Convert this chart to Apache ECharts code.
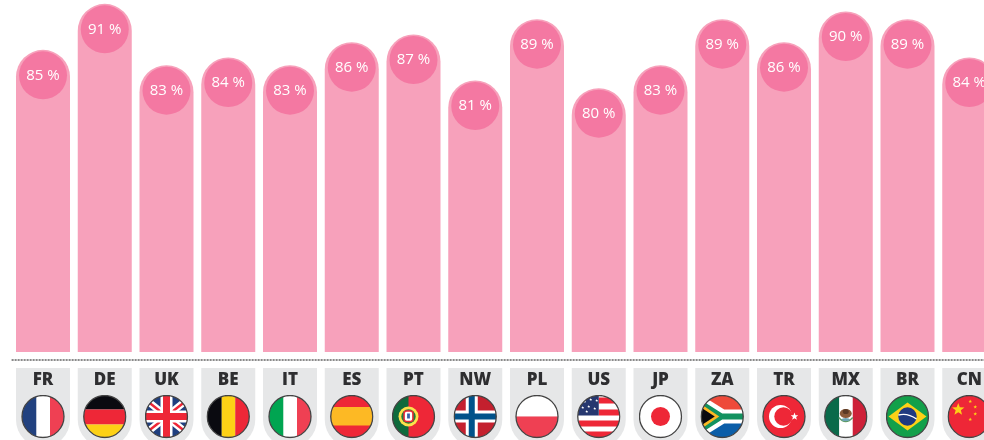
<!DOCTYPE html>
<html>
<head>
<meta charset="utf-8">
<style>html,body{margin:0;padding:0;background:#fff;overflow:hidden}#c{width:984px;height:440px}</style>
<script src="https://cdn.jsdelivr.net/npm/echarts@6/dist/echarts.min.js"></script>
</head>
<body>
<div id="c"></div>
<script>
const categories = ['FR','DE','UK','BE','IT','ES','PT','NW','PL','US','JP','ZA','TR','MX','BR','CN'];
const shares = [85,91,83,84,83,86,87,81,89,80,83,89,86,90,89,84];

const RED='#ee2737', NAVY='#1f3f7f';
const stripesV=(a,b,c)=>`<rect x="0" y="0" width="15.5" height="44" fill="${a}"/><rect x="15.5" y="0" width="13.5" height="44" fill="${b}"/><rect x="29" y="0" width="15" height="44" fill="${c}"/>`;
const star=(x,y,r,f)=>{let p=[];for(let i=0;i<10;i++){const a=-Math.PI/2+i*Math.PI/5,q=i%2?r*0.42:r;p.push((x+q*Math.cos(a)).toFixed(2)+','+(y+q*Math.sin(a)).toFixed(2));}return `<polygon points="${p.join(' ')}" fill="${f}"/>`;};
const flagArt = {
 FR: stripesV('#21417f','#fff','#ef4053'),
 DE: `<rect width="44" height="15" fill="#0a0a10"/><rect y="15" width="44" height="15" fill="${RED}"/><rect y="30" width="44" height="14" fill="#fdd116"/>`,
 UK: `<rect width="44" height="44" fill="${NAVY}"/><path d="M0 4L44 40M44 4L0 40" stroke="#fff" stroke-width="7"/><path d="M2 6L16 17M42 6L28 17M2 38L16 27M42 38L28 27" stroke="${RED}" stroke-width="2.4"/><rect x="16" width="12" height="44" fill="#fff"/><rect y="16" width="44" height="12" fill="#fff"/><rect x="18.5" width="7" height="44" fill="${RED}"/><rect y="18.5" width="44" height="7" fill="${RED}"/>`,
 BE: stripesV('#0a0a10','#fdd116',RED),
 IT: stripesV('#00a551','#fff','#ef4053'),
 ES: `<rect width="44" height="44" fill="${RED}"/><rect y="12.5" width="44" height="18.5" fill="#fdb924"/>`,
 PT: `<rect width="44" height="44" fill="${RED}"/><rect width="17" height="44" fill="#0e6a3c"/><circle cx="17" cy="22" r="10" fill="#fde14a"/><circle cx="17" cy="22" r="7.2" fill="#1f7a3c"/><rect x="12.6" y="16.5" width="8.8" height="10.5" rx="2.5" fill="#fff" stroke="${RED}" stroke-width="1.5"/><rect x="15.6" y="19" width="2.8" height="5" fill="#3a5fa8"/>`,
 NW: `<rect width="44" height="44" fill="#c4202e"/><rect x="12.5" width="12" height="44" fill="#fff"/><rect y="16" width="44" height="12" fill="#fff"/><rect x="15.5" width="6" height="44" fill="#00528a"/><rect y="19" width="44" height="6" fill="#00528a"/>`,
 PL: `<rect width="44" height="22" fill="#fff"/><rect y="22" width="44" height="22" fill="#ef4053"/>`,
 US: `<rect width="44" height="44" fill="#fff"/><rect x="22" y="3" width="22" height="6" fill="${RED}"/><rect x="22" y="15" width="22" height="6" fill="${RED}"/><rect y="26" width="44" height="6" fill="${RED}"/><rect y="37" width="44" height="6" fill="${RED}"/><rect width="22" height="21" fill="#26376f"/>`+[[8,7],[14,5],[20,6],[6,13],[12,12],[18,14],[10,17]].map(([x,y])=>star(x,y,1.6,'#fff')).join(''),
 JP: `<rect width="44" height="44" fill="#fff"/><circle cx="22" cy="22" r="9.5" fill="${RED}"/>`,
 ZA: `<rect width="44" height="44" fill="#fff"/><path d="M0 0H44V15H24Z" fill="#ee4a3a"/><path d="M0 44H44V29H24Z" fill="#0b5ea8"/><path d="M0 2L21 17H44V27H21L0 42Z" fill="#fff"/><path d="M0 5L22 19H44V25H22L0 39Z" fill="#12925f"/><path d="M0 9L19 22L0 35Z" fill="#fdb924"/><path d="M0 12.5L14.5 22L0 31.5Z" fill="#0a0a10"/>`,
 TR: `<rect width="44" height="44" fill="${RED}"/><circle cx="18.5" cy="22" r="11.5" fill="#fff"/><circle cx="21.5" cy="22" r="9.2" fill="${RED}"/>`+star(32.5,22,4,'#fff'),
 MX: stripesV('#0a6a4a','#fff','#ce2038')+`<ellipse cx="22" cy="19" rx="6" ry="4.5" fill="#8a5a3a"/><ellipse cx="22" cy="17" rx="3" ry="2.6" fill="#5b3a25"/><path d="M15 23Q22 31 29 23" fill="none" stroke="#5f9a6a" stroke-width="1.6"/><ellipse cx="22" cy="25" rx="4" ry="1.6" fill="#6ea5b5"/>`,
 BR: `<rect width="44" height="44" fill="#12a04a"/><path d="M22 8L41 22L22 36L3 22Z" fill="#fdd116"/><circle cx="22" cy="22" r="9.2" fill="#1f3a80"/><path d="M13 20.5Q22 18 31 24.5" fill="none" stroke="#fff" stroke-width="1.3"/>`,
 CN: `<rect width="44" height="44" fill="${RED}"/>`+star(11,15,6.5,'#fdd116')+star(23,7,1.9,'#fdd116')+star(28,12.5,1.9,'#fdd116')+star(28,19.5,1.9,'#fdd116')+star(23,25,1.9,'#fdd116')
};
const flagUri = c => 'image://data:image/svg+xml;charset=utf-8,' + encodeURIComponent(
 `<svg xmlns="http://www.w3.org/2000/svg" width="44" height="44" viewBox="0 0 44 44"><defs><clipPath id="k"><circle cx="22" cy="22" r="21"/></clipPath></defs><g clip-path="url(#k)">${flagArt[c]}</g><circle cx="22" cy="22" r="21" fill="none" stroke="#444" stroke-width="1.3"/></svg>`);

const option = {
 animation:false,
 backgroundColor:'#fff',
 grid:[
  {left:12.125,top:0,width:988,height:352,outerBoundsMode:'none',containLabel:false},
  {left:12.125,top:368,width:988,height:79,outerBoundsMode:'none',containLabel:false}
 ],
 xAxis:[
  {type:'category',gridIndex:0,data:categories,show:false},
  {type:'category',gridIndex:1,data:categories,position:'top',offset:8,
   axisLine:{show:true,onZero:false,lineStyle:{color:'#666',width:1.5,type:[1,2]}},axisTick:{show:false},axisLabel:{show:false}}
 ],
 yAxis:[
  {type:'value',gridIndex:0,min:45.6,max:91.5,show:false},
  {type:'value',gridIndex:1,min:0,max:79,show:false}
 ],
 series:[
  {type:'bar',xAxisIndex:0,yAxisIndex:0,data:shares,barWidth:54,silent:true,
   itemStyle:{color:'#f7a1bb',borderRadius:[27,27,0,0]}},
  {type:'scatter',xAxisIndex:0,yAxisIndex:0,data:shares.map((v,i)=>[i,v]),symbol:'circle',symbolSize:48,
   symbolOffset:[0,25.5],clip:false,silent:true,itemStyle:{color:'#f478a2',opacity:1},
   label:{show:true,position:'inside',color:'#fff',fontFamily:'Open Sans',fontWeight:500,fontSize:15,
    formatter:p=>p.value[1]+' %'}},
  {type:'bar',xAxisIndex:1,yAxisIndex:1,data:categories.map(c=>({value:79,name:c})),barWidth:54,silent:true,
   itemStyle:{color:'#e6e7e8',borderRadius:[0,0,27,27]},
   label:{show:true,position:'insideTop',distance:4,formatter:'{b}',color:'#2e2e30',fontFamily:'Open Sans',fontWeight:800,fontSize:17}},
  {type:'scatter',xAxisIndex:1,yAxisIndex:1,clip:false,silent:true,symbolSize:44,itemStyle:{opacity:1},
   data:categories.map((c,i)=>({value:[i,30.5],symbol:flagUri(c)}))}
 ]
};
echarts.init(document.getElementById('c'),null,{renderer:'canvas'}).setOption(option);
</script>
</body>
</html>
